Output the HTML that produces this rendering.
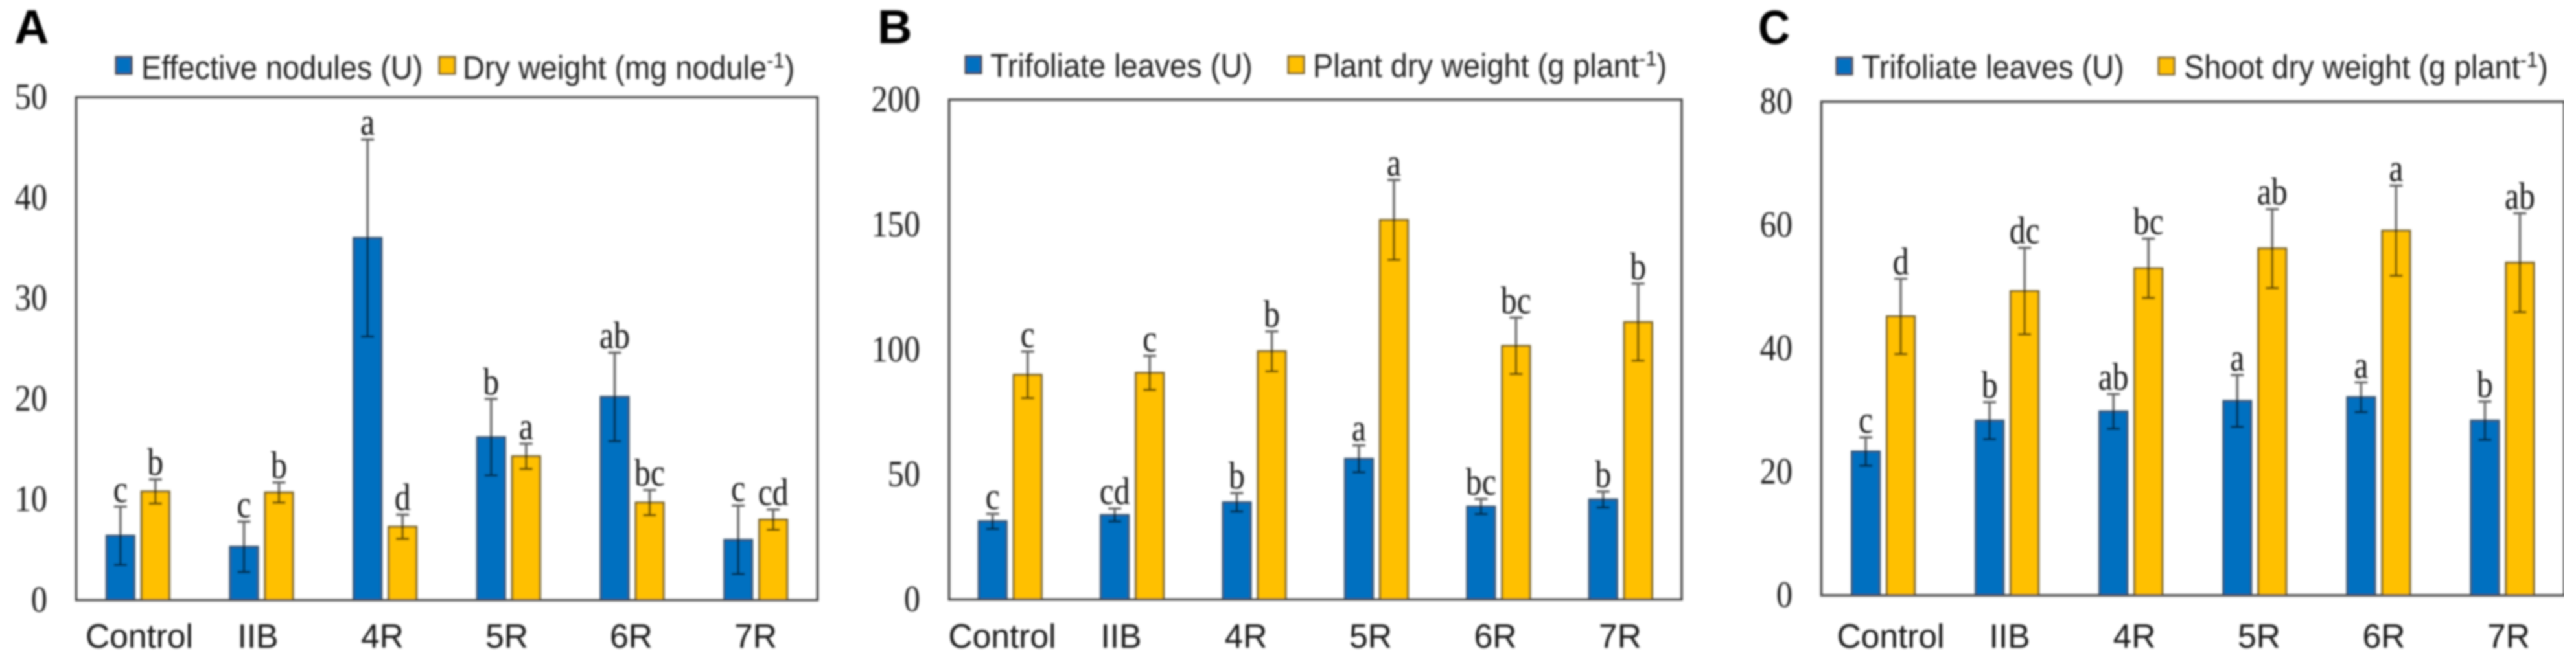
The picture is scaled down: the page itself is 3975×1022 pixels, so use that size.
<!DOCTYPE html>
<html lang="en">
<head>
<meta charset="utf-8">
<title>Nodulation and plant growth charts</title>
<style>
html,body{margin:0;padding:0;background:#fff;width:3975px;height:1022px;overflow:hidden}
svg{display:block}
.sans{font-family:"Liberation Sans",Arial,sans-serif}
.serif{font-family:"Liberation Serif","Times New Roman",serif}
.legend-text{font-size:46.9px;fill:#222}
.sup{font-size:31px}
.panel-letter{font-size:74px;font-weight:700;fill:#000}
.tick{font-size:54px;fill:#1c1c1c}
.cat{font-size:51.5px;fill:#141414}
.sig{font-size:54px;fill:#181818}
</style>
</head>
<body>
<svg id="figure" xmlns="http://www.w3.org/2000/svg" width="3975" height="1022" viewBox="0 0 3975 1022">
<defs><filter id="soft" x="0" y="0" width="100%" height="100%" filterUnits="objectBoundingBox"><feGaussianBlur stdDeviation="1.7"/></filter></defs>
<rect width="3975" height="1022" fill="#fff"/>
<g id="root" filter="url(#soft)">
  <g id="panel-a">
    <text class="sans panel-letter" x="22" y="67">A</text>
    <rect x="179" y="88" width="24" height="26" fill="#0070C0" stroke="#444" stroke-width="3"/>
    <text class="sans legend-text" transform="translate(218 122) scale(1 1.08)">Effective nodules (U)</text>
    <rect x="678" y="88" width="24" height="26" fill="#FFC000" stroke="#77622a" stroke-width="3"/>
    <text class="sans legend-text" transform="translate(714 122) scale(1 1.08)">Dry weight (mg nodule<tspan class="sup" dy="-16">-1</tspan><tspan dy="16">)</tspan></text>
  </g>
  <g id="panel-b">
    <text class="sans panel-letter" x="1354" y="67">B</text>
    <rect x="1490" y="87" width="24" height="26" fill="#0070C0" stroke="#444" stroke-width="3"/>
    <text class="sans legend-text" transform="translate(1528 119) scale(1 1.08)">Trifoliate leaves (U)</text>
    <rect x="1988" y="87" width="24" height="26" fill="#FFC000" stroke="#77622a" stroke-width="3"/>
    <text class="sans legend-text" transform="translate(2026 119) scale(1 1.08)">Plant dry weight (g plant<tspan class="sup" dy="-16">-1</tspan><tspan dy="16">)</tspan></text>
  </g>
  <g id="panel-c">
    <text class="sans panel-letter" transform="translate(2713 68) scale(0.92 1)">C</text>
    <rect x="2834" y="89" width="24" height="26" fill="#0070C0" stroke="#444" stroke-width="3"/>
    <text class="sans legend-text" transform="translate(2873 121) scale(1 1.08)">Trifoliate leaves (U)</text>
    <rect x="3331" y="89" width="24" height="26" fill="#FFC000" stroke="#77622a" stroke-width="3"/>
    <text class="sans legend-text" transform="translate(3370 121) scale(1 1.08)">Shoot dry weight (g plant<tspan class="sup" dy="-16">-1</tspan><tspan dy="16">)</tspan></text>
  </g>
</g>
</svg>
<script>
const categories = ['Control', 'IIB', '4R', '5R', '6R', '7R'];

const ticksA = [0, 10, 20, 30, 40, 50];
const nodulesValues = [6.4, 5.3, 36.0, 16.2, 20.2, 6.0];
const nodulesErrors = [2.9, 2.5, 9.8, 3.8, 4.4, 3.4];
const nodulesLetters = ['c', 'c', 'a', 'b', 'ab', 'c'];
const dryWeightValues = [10.8, 10.7, 7.3, 14.3, 9.7, 8.0];
const dryWeightErrors = [1.2, 1.0, 1.2, 1.25, 1.25, 1.0];
const dryWeightLetters = ['b', 'b', 'd', 'a', 'bc', 'cd'];

const ticksB = [0, 50, 100, 150, 200];
const leavesBValues = [31.3, 33.8, 38.9, 56.3, 37.2, 40.0];
const leavesBErrors = [3.0, 2.6, 3.7, 5.4, 3.0, 3.2];
const leavesBLetters = ['c', 'cd', 'b', 'a', 'bc', 'b'];
const plantWeightValues = [89.9, 90.7, 99.3, 151.9, 101.5, 111.0];
const plantWeightErrors = [9.3, 6.8, 8.0, 16.0, 11.3, 15.4];
const plantWeightLetters = ['c', 'c', 'b', 'a', 'bc', 'b'];

const ticksC = [0, 20, 40, 60, 80];
const leavesCValues = [23.3, 28.3, 29.8, 31.5, 32.1, 28.3];
const leavesCErrors = [2.3, 3.0, 2.8, 4.2, 2.4, 3.1];
const leavesCLetters = ['c', 'b', 'ab', 'a', 'a', 'b'];
const shootWeightValues = [45.2, 49.3, 53.0, 56.2, 59.1, 53.9];
const shootWeightErrors = [6.1, 7.0, 4.8, 6.4, 7.3, 8.0];
const shootWeightLetters = ['d', 'dc', 'bc', 'ab', 'a', 'ab'];

const SVG_NS = 'http://www.w3.org/2000/svg';
const BAR_W = 43, BAR_GAP = 11, CAP_W = 20;

function make(tag, parent, attrs, text) {
  const el = document.createElementNS(SVG_NS, tag);
  for (const k in attrs) el.setAttribute(k, attrs[k]);
  if (text !== undefined) el.textContent = text;
  parent.appendChild(el);
  return el;
}

function drawPanel(group, box, ticks, first, second) {
  const maxV = ticks[ticks.length - 1];
  const yAxis = v => box.bottom - (v / maxV) * (box.bottom - box.top);
  const xAxis = i => box.left + (i + 0.5) * (box.right - box.left) / categories.length;

  ticks.forEach(t => {
    const label = make('text', group, {class: 'serif tick', transform: 'translate(' + box.tickRight + ' ' + (yAxis(t) + 18) + ') scale(0.93 1.06)', 'text-anchor': 'end'}, String(t));
    
    
  });

  categories.forEach((c, i) => {
    const lx = box.catStart + i * box.catStep + (i === 0 ? 9 : 0);
    const label = make('text', group, {class: 'sans cat', x: lx, y: 1000, 'text-anchor': 'middle'}, c);
    
    
  });

  [first, second].forEach((s, si) => {
    s.values.forEach((v, i) => {
      const cx = xAxis(i);
      const x = si === 0 ? cx - BAR_GAP / 2 - BAR_W : cx + BAR_GAP / 2;
      const mid = x + BAR_W / 2;
      const bar = make('rect', group, {x: x, y: yAxis(v), width: BAR_W, height: yAxis(0) - yAxis(v), fill: s.fill, stroke: s.edge, 'stroke-width': 3});
      
      

      const e = s.errors[i];
      const hi = yAxis(v + e), lo = yAxis(v - e);
      const err = make('path', group, {
        d: 'M' + mid + ' ' + hi + 'V' + lo + 'M' + (mid - CAP_W / 2) + ' ' + hi + 'H' + (mid + CAP_W / 2) + 'M' + (mid - CAP_W / 2) + ' ' + lo + 'H' + (mid + CAP_W / 2),
        fill: 'none', stroke: '#000', 'stroke-opacity': 0.6, 'stroke-width': 3.5
      });
      
      

      const sig = make('text', group, {class: 'serif sig', transform: 'translate(' + mid + ' ' + (hi - 7) + ') scale(0.92 1.1)', 'text-anchor': 'middle'}, s.letters[i]);
      
      
    });
  });

  const frame = make('rect', group, {x: box.left, y: box.top, width: box.right - box.left, height: box.bottom - box.top, fill: 'none', stroke: '#444', 'stroke-width': 3.5});
  
  
}

const BLUE = '#0070C0', GOLD = '#FFC000', BLUE_EDGE = '#33506a', GOLD_EDGE = '#6f5c22';

drawPanel(document.getElementById('panel-a'),
  {left: 117.5, right: 1261.5, top: 150, bottom: 926.5, tickRight: 73, catStart: 206, catStep: 192},
  ticksA,
  {values: nodulesValues, errors: nodulesErrors, letters: nodulesLetters, fill: BLUE, edge: BLUE_EDGE},
  {values: dryWeightValues, errors: dryWeightErrors, letters: dryWeightLetters, fill: GOLD, edge: GOLD_EDGE});

drawPanel(document.getElementById('panel-b'),
  {left: 1464.5, right: 2595, top: 154, bottom: 925.5, tickRight: 1420, catStart: 1537.5, catStep: 192.5},
  ticksB,
  {values: leavesBValues, errors: leavesBErrors, letters: leavesBLetters, fill: BLUE, edge: BLUE_EDGE},
  {values: plantWeightValues, errors: plantWeightErrors, letters: plantWeightLetters, fill: GOLD, edge: GOLD_EDGE});

drawPanel(document.getElementById('panel-c'),
  {left: 2810.5, right: 3957, top: 157, bottom: 919, tickRight: 2766, catStart: 2908.5, catStep: 192.5},
  ticksC,
  {values: leavesCValues, errors: leavesCErrors, letters: leavesCLetters, fill: BLUE, edge: BLUE_EDGE},
  {values: shootWeightValues, errors: shootWeightErrors, letters: shootWeightLetters, fill: GOLD, edge: GOLD_EDGE});
</script>
</body>
</html>
